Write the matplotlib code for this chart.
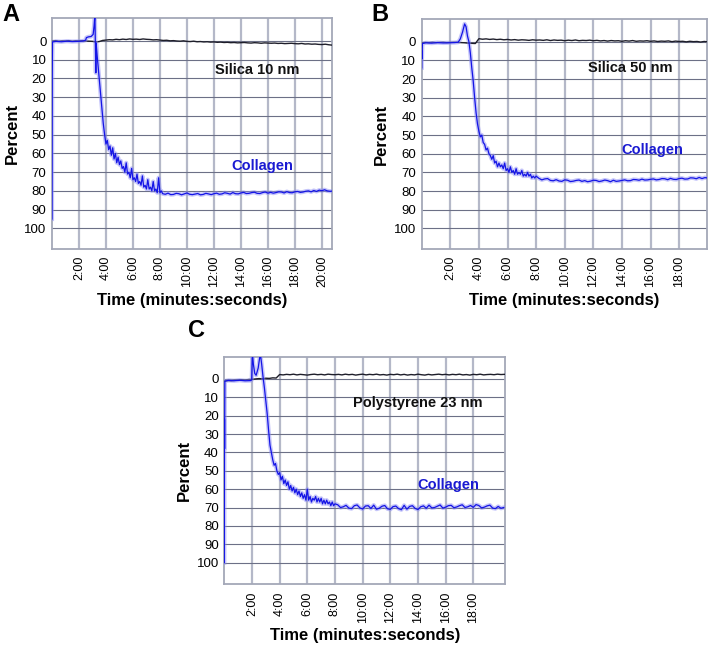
import numpy as np
import matplotlib
matplotlib.use("Agg")
import matplotlib.pyplot as plt

plt.rcParams["font.family"] = ["Liberation Sans", "DejaVu Sans"]

# ---- Panel A: Silica 10 nm ----
a_blue_start_t = [0.0, 0.01, 0.02, 0.04, 0.3, 0.7, 1.1, 1.5, 1.9, 2.3, 2.5, 2.55,
                  2.7, 2.9, 3.05, 3.12, 3.18, 3.22, 3.25, 3.27, 3.35, 3.5, 3.65, 3.8]
a_blue_start_v = [95, 40, 18, 0.5, 0.2, 0.4, 0.1, 0.3, 0.2, 0.0, -0.5, -1.8,
                  -2.2, -2.4, -3.5, -8, -14, 5, 17, 1, 8, 20, 32, 44]
a_blue_fast = [50, 55, 53, 58, 56, 61, 57, 63, 60, 65, 62, 66, 64, 68, 67, 70, 65, 71,
               70, 73, 68, 74, 73, 75, 71, 76, 75, 77, 72, 78, 77, 79, 74, 79, 78, 80,
               75, 80, 79, 81, 73, 81, 80, 81.5]          # 3.9 .. 8.2 every 0.1 min
a_blue_slow = [81.8, 81.2, 82.0, 81.9, 81.3, 81.5, 82.1, 81.6, 81.1, 81.8, 82.0, 81.7,
               81.4, 82.1, 81.9, 81.3, 81.6, 82.0, 81.5,
               81.2, 81.8, 81.6, 81.0, 81.3, 81.7, 80.9, 81.5, 81.6, 81.1, 80.8, 81.4,
               81.3, 80.9, 80.7, 81.3, 81.4, 80.9, 80.6, 81.2,
               80.8, 81.2, 80.9, 80.5, 80.6, 81.1, 80.4, 80.9, 81.0, 80.5, 80.3, 80.8,
               80.6, 80.2, 80.0, 80.5, 79.8, 80.3, 79.6, 79.9, 79.4, 80.0, 80.2, 80.1]  # 8.4 .. 20.8 every 0.2
a_black = [0.0, -0.2, 0.1, -0.1, 0.0, -0.2, 0.1, -0.1, 0.0, -0.2, 0.0, 0.1, 0.2,
           0.5, 0.3, -0.3,
           -0.5, -0.7, -0.6, -0.9, -0.7, -1.0, -0.8, -1.1, -0.9, -1.0, -0.8, -1.1, -0.9,
           -0.8, -0.6, -0.7, -0.5,
           -0.3, -0.4, -0.1, -0.2, 0.0, 0.1, -0.1, 0.2, 0.3, 0.1, 0.4, 0.3, 0.5, 0.4, 0.6, 0.5,
           0.7, 0.6, 0.8, 0.7, 0.9, 0.8, 1.0, 0.9, 0.8, 1.0, 1.1, 0.9, 1.0, 1.2, 1.0, 1.1,
           1.2, 1.1, 1.3, 1.2, 1.4, 1.3, 1.2, 1.4, 1.5, 1.3, 1.6, 1.5, 1.7, 1.6, 1.8, 1.9,
           1.7, 2.0, 2.2]                                   # 0 .. 20.75 every 0.25

# ---- Panel B: Silica 50 nm ----
b_blue_start_t = [0.0, 0.0, 0.02, 0.05, 0.3, 0.7, 1.1, 1.5, 1.9, 2.3, 2.55, 2.7,
                  2.85, 3.0, 3.1, 3.2, 3.3, 3.4, 3.5, 3.6, 3.7, 3.8]
b_blue_start_v = [14, 5, 9, 1.0, 0.6, 0.8, 0.5, 0.7, 0.6, 0.5, 0.3, -1.5,
                  -5, -9.5, -8, -3, 0, 6, 14, 21, 30, 38]
b_blue_fast = [44, 48, 51, 50, 54, 55, 58, 57, 60, 61, 63, 61, 65, 64, 67, 65, 67, 66,
               68, 65, 69, 68, 70, 67, 70, 69, 71, 68, 71, 70, 71, 69, 72, 71, 72, 70,
               72, 71, 73, 72, 73, 72]                    # 3.9 .. 8.0 every 0.1
b_blue_slow = [73.2, 74.0, 73.5, 73.3, 74.3, 74.5, 73.9, 74.6, 74.8, 74.0,
               74.2, 74.9, 74.7, 74.3, 74.1, 74.8, 74.4, 75.0, 74.7, 74.2,
               74.3, 74.9, 74.6, 74.1, 74.4, 75.0, 74.2, 74.8, 74.6, 74.3,
               74.0, 74.5, 74.4, 73.8, 73.9, 74.2, 73.6, 74.1, 74.0, 73.7,
               73.5, 74.0, 73.8, 73.3, 73.4, 73.9, 73.2, 73.7, 73.8, 73.3,
               73.1, 73.6, 73.5, 72.9, 73.0, 73.4, 72.7, 73.3, 72.8, 73.0]  # 8.2 .. 20.0 every 0.2
b_black = [0.6, 0.4, 0.5, 0.3, 0.5, 0.4, 0.3, 0.5, 0.4, 0.3, 0.4, 0.5, 0.6, 0.8, 0.9, 1.0,
           -1.6, -1.3, -1.5, -1.2, -1.4, -1.1, -1.3, -1.0, -1.2, -0.9, -1.1, -0.8, -1.0,
           -0.9, -0.7, -1.0, -0.8,
           -0.9, -0.7, -1.0, -0.6, -0.9, -0.7, -0.8, -0.5, -0.8, -0.6, -0.9, -0.5, -0.7,
           -0.6, -0.8, -0.5,
           -0.7, -0.4, -0.6, -0.3, -0.6, -0.4, -0.5, -0.2, -0.5, -0.3, -0.6, -0.2, -0.4,
           -0.3, -0.5, -0.2,
           -0.4, -0.1, -0.3, -0.2, -0.4, 0.0, -0.3, -0.1, -0.2, 0.1, -0.2, 0.0, -0.1,
           0.2, -0.1, 0.1]                                   # 0 .. 20.0 every 0.25

# ---- Panel C: Polystyrene 23 nm ----
c_blue_start_t = [0.0, 0.01, 0.02, 0.04, 0.3, 0.7, 1.1, 1.5, 1.9, 1.98, 2.03, 2.1,
                  2.2, 2.3, 2.45, 2.6, 2.7, 2.8, 2.9, 3.0, 3.1, 3.2, 3.3]
c_blue_start_v = [100, 22, 38, 1.2, 0.8, 1.0, 0.7, 1.0, 0.9, 0.5, -14, -8,
                  -3, -2, -6, -14, -8, -1, 5, 12, 19, 28, 36]
c_blue_fast = [40, 44, 47, 46, 50, 52, 51, 55, 53, 57, 55, 58, 56, 60, 58, 61, 59, 62,
               60, 63, 61, 64, 62, 65, 63, 66, 60, 66, 64, 67, 65, 66, 64, 67, 65, 67,
               65, 68, 66, 68, 66, 68, 67, 69, 67, 69, 68]  # 3.4 .. 8.0 every 0.1
c_blue_slow = [68.5, 70.0, 69.6, 68.8, 70.3, 70.6, 69.0, 68.6, 70.2, 70.8,
               69.2, 69.0, 70.5, 68.7, 70.9, 70.4, 69.3, 68.9, 70.7, 71.0,
               69.5, 69.2, 70.6, 71.2, 68.8, 70.9, 69.4, 69.0, 70.5, 71.1,
               69.6, 69.1, 70.4, 68.7, 70.2, 70.0, 69.3, 68.6, 70.3, 69.8,
               69.0, 68.8, 70.1, 69.7, 69.0, 68.5, 70.0, 69.6, 68.9, 69.9,
               68.4, 68.9, 70.2, 69.8, 69.1, 68.7, 70.3, 70.6, 69.4, 70.4, 70.0]  # 8.2 .. 20.2 every 0.2
c_black = [1.2, 0.9, 1.0, 0.7, 0.8, 0.5, 0.6, 0.3, 0.2, 0.0, -0.2, -0.1, -0.4, -0.3, -0.6, -0.5,
           -2.4, -2.2, -2.5, -2.3, -2.6, -2.2, -2.5, -2.3, -2.1, -2.4, -2.6, -2.3, -2.5,
           -2.2, -2.6, -2.4, -2.3,
           -2.5, -2.2, -2.6, -2.3, -2.5, -2.1, -2.4, -2.6, -2.2, -2.5, -2.3, -2.6, -2.2,
           -2.4, -2.1, -2.5,
           -2.3, -2.6, -2.2, -2.5, -2.1, -2.4, -2.2, -2.6, -2.3, -2.1, -2.5, -2.2, -2.4,
           -2.6, -2.3, -2.5,
           -2.2, -2.5, -2.3, -2.6, -2.2, -2.4, -2.1, -2.5, -2.3, -2.6, -2.2, -2.4, -2.5,
           -2.3, -2.6, -2.4, -2.5]                           # 0 .. 20.25 every 0.25

y_ticks = [0, 10, 20, 30, 40, 50, 60, 70, 80, 90, 100]

BLUE = "#1414e6"
HALO = "#8c8cf5"


def sampled(t0, step, values):
    # the recorder samples at a fixed interval
    return t0 + step * np.arange(len(values))


def draw_panel(ax, letter_xy, letter, blue_t, blue_v, black_t, black_v,
               xmax, xtick_max, title, title_xy, coll_xy, ylim):
    ax.set_xlim(0, xmax)
    ax.set_ylim(*ylim)
    xt = np.arange(2, xtick_max + 1, 2)
    ax.set_xticks(xt)
    ax.set_xticklabels([f"{int(m)}:00" for m in xt], rotation=90, fontsize=9)
    ax.set_yticks(y_ticks)
    ax.set_yticklabels([str(v) for v in y_ticks], fontsize=9.5)
    ax.tick_params(length=0, pad=4)
    ax.tick_params(axis="x", pad=5)

    ax.grid(axis="x", color="#b4b8c8", lw=1.6, zorder=0)
    ax.grid(axis="y", color="#6c7086", lw=0.8, zorder=0)
    for s in ax.spines.values():
        s.set_color("#a4a8b8")
        s.set_linewidth(1.3)

    ax.plot(black_t, black_v, color="#1e1e2a", lw=1.0, zorder=3)
    ax.plot(blue_t, blue_v, color=HALO, lw=3.0, alpha=0.5, zorder=4)
    ax.plot(blue_t, blue_v, color=BLUE, lw=0.9, zorder=5)

    ax.text(*title_xy, title, fontsize=10.5, fontweight="bold", ha="center",
            va="center", color="#111111")
    ax.text(*coll_xy, "Collagen", fontsize=10.5, fontweight="bold", ha="center",
            va="center", color="#1a1ad2")

    ax.set_ylabel("Percent", fontsize=12, fontweight="bold")
    ax.set_xlabel("Time (minutes:seconds)", fontsize=12, fontweight="bold")
    ax.yaxis.set_label_coords(-0.115, 0.5)
    ax.xaxis.set_label_coords(0.5, -0.19)
    fig.text(*letter_xy, letter, fontsize=17, fontweight="bold", ha="left", va="center")


fig = plt.figure(figsize=(7.09, 6.46), dpi=100)
axA = fig.add_axes([0.0733, 0.6146, 0.395, 0.3576])
axB = fig.add_axes([0.5948, 0.6146, 0.402, 0.3556])
axC = fig.add_axes([0.3164, 0.0955, 0.396, 0.3523])

a_t = np.concatenate([a_blue_start_t, sampled(3.9, 0.1, a_blue_fast), sampled(8.4, 0.2, a_blue_slow)])
a_v = np.concatenate([a_blue_start_v, a_blue_fast, a_blue_slow])
b_t = np.concatenate([b_blue_start_t, sampled(3.9, 0.1, b_blue_fast), sampled(8.2, 0.2, b_blue_slow)])
b_v = np.concatenate([b_blue_start_v, b_blue_fast, b_blue_slow])
c_t = np.concatenate([c_blue_start_t, sampled(3.4, 0.1, c_blue_fast), sampled(8.2, 0.2, c_blue_slow)])
c_v = np.concatenate([c_blue_start_v, c_blue_fast, c_blue_slow])

draw_panel(axA, (0.004, 0.978), "A", a_t, a_v, sampled(0, 0.25, a_black), a_black,
           20.75, 20, "Silica 10 nm", (15.2, 15.5), (15.6, 66.5), (111, -12.3))
draw_panel(axB, (0.524, 0.978), "B", b_t, b_v, sampled(0, 0.25, b_black), b_black,
           19.93, 18, "Silica 50 nm", (14.6, 14.3), (16.1, 58.2), (111, -12))
draw_panel(axC, (0.265, 0.489), "C", c_t, c_v, sampled(0, 0.25, c_black), c_black,
           20.3, 18, "Polystyrene 23 nm", (14.0, 13.2), (16.2, 58), (111.8, -12.1))

fig.savefig("out.png", dpi=100)
